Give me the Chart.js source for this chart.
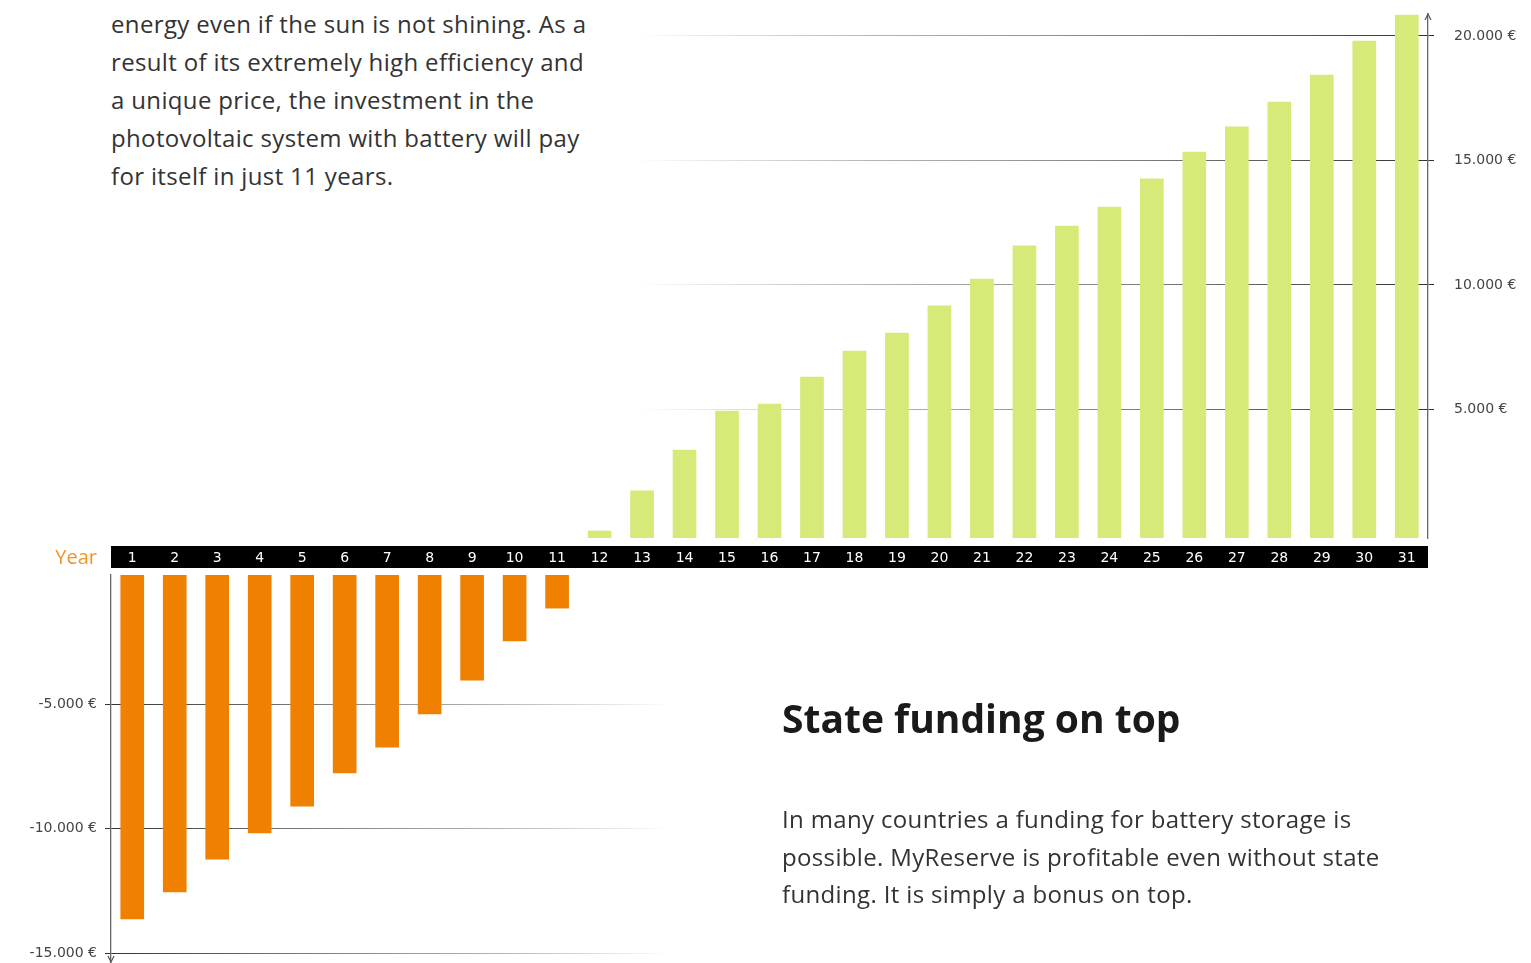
<!DOCTYPE html>
<html lang="en">
<head>
<meta charset="utf-8">
<title>MyReserve payback</title>
<script src="https://cdn.jsdelivr.net/npm/chart.js@4.4.1/dist/chart.umd.min.js"></script>
<style>
    body {
        margin: 0;
        background: #fff;
        font-family: "Open Sans", sans-serif;
        color: #333;
    }
    .page {
        position: relative;
        width: 1531px;
        height: 963px;
        overflow: hidden;
    }
    .texto {
        position: absolute;
        font-size: 24px;
        line-height: 38px;
        letter-spacing: 0.35px;
        color: #333;
        white-space: nowrap;
    }
    .titulo {
        position: absolute;
        left: 782px;
        top: 694px;
        font-size: 39px;
        line-height: 48px;
        font-weight: bold;
        color: #1a1a1a;
        white-space: nowrap;
    }
    .year {
        position: absolute;
        right: calc(1531px - 97px);
        top: 544px;
        font-size: 20px;
        line-height: 26px;
        color: #f39325;
    }
    #chartTop { position: absolute; left: 0; top: 0; }
    #chartBottom { position: absolute; left: 0; top: 570px; }
</style>
</head>
<body>
<div class="page">
    <div class="texto" style="left:111px; top:5px;">
        energy even if the sun is not shining. As a<br>
        result of its extremely high efficiency and<br>
        a unique price, the investment in the<br>
        photovoltaic system with battery will pay<br>
        for itself in just 11 years.
    </div>

    <canvas id="chartTop" width="1531" height="570"></canvas>
    <canvas id="chartBottom" width="1531" height="393"></canvas>
    <div class="year">Year</div>

    <div class="titulo">State funding on top</div>
    <div class="texto" style="left:782px; top:800px; line-height:37.5px;">
        In many countries a funding for battery storage is<br>
        possible. MyReserve is profitable even without state<br>
        funding. It is simply a bonus on top.
    </div>
</div>

<script>
// Years on the x axis
const years = ['1', '2', '3', '4', '5', '6', '7', '8', '9', '10', '11', '12', '13', '14', '15', '16',
    '17', '18', '19', '20', '21', '22', '23', '24', '25', '26', '27', '28', '29', '30', '31'];

// Cumulative balance per year (EUR)
const balance = [-13630, -12550, -11230, -10180, -9100, -7770, -6730, -5400, -4040, -2470, -1150,
    120, 1730, 3370, 4940, 5220, 6300, 7350, 8070, 9160, 10240, 11570, 12370, 13130, 14260,
    15340, 16350, 17350, 18430, 19800, 20840];

// Tick labels on both y axes
const ticksTop = [5000, 10000, 15000, 20000];
const ticksBottom = [-5000, -10000, -15000];

const green = 'rgb(213, 234, 120)';
const orange = 'rgb(240, 128, 0)';
const tickFont = { family: '"DejaVu Sans", sans-serif', size: 14 };

// 20000 -> "20.000 €"
function euro(v) {
    const s = String(Math.abs(v)).replace(/\B(?=(\d{3})+(?!\d))/g, '.');
    return (v < 0 ? '-' : '') + s + ' €';
}

// no extra space for the labels, chart area stays where the padding puts it
function sinPadding(scale) {
    scale.paddingTop = 0;
    scale.paddingBottom = 0;
    scale.paddingLeft = 0;
    scale.paddingRight = 0;
}

// black band behind the year labels
const bandaAnios = {
    id: 'bandaAnios',
    beforeDraw(chart) {
        const x = chart.scales.x;
        const c = chart.ctx;
        c.save();
        c.fillStyle = '#000';
        c.fillRect(x.left, 546, x.right - x.left, 22);
        c.restore();
    }
};

// small arrow heads on the y axis lines
function flecha(arriba) {
    return {
        id: 'flecha',
        afterDraw(chart) {
            const y = chart.scales.y;
            const c = chart.ctx;
            const x = arriba ? y.left : y.right;
            const tip = arriba ? chart.chartArea.top : chart.chartArea.bottom - 1;
            const d = arriba ? 6 : -6;
            c.save();
            c.strokeStyle = '#555';
            c.lineWidth = 1.2;
            c.beginPath();
            c.moveTo(x - 3, tip + d);
            c.lineTo(x, tip);
            c.lineTo(x + 3, tip + d);
            c.stroke();
            c.restore();
        }
    };
}

document.addEventListener('DOMContentLoaded', function() {
    // Upper chart: positive years, axis on the right
    const ctx = document.getElementById('chartTop').getContext('2d');
    const gradTop = ctx.createLinearGradient(635, 0, 1433, 0);
    gradTop.addColorStop(0, 'rgba(90, 90, 90, 0)');
    gradTop.addColorStop(0.3, 'rgba(90, 90, 90, 0.45)');
    gradTop.addColorStop(1, 'rgba(50, 50, 50, 1)');

    new Chart(ctx, {
        type: 'bar',
        data: {
            labels: years,
            datasets: [{
                data: balance.map(v => v > 0 ? v : null),
                backgroundColor: green,
                barThickness: 23,
                base: -161
            }]
        },
        options: {
            responsive: false,
            animation: false,
            layout: { padding: { left: 111, top: 14, right: 0, bottom: 0 } },
            plugins: { legend: { display: false }, tooltip: { enabled: false } },
            scales: {
                x: {
                    position: 'bottom',
                    grid: { display: false },
                    border: { display: false },
                    ticks: { color: '#fff', font: tickFont, padding: 4, maxRotation: 0, autoSkip: false },
                    afterFit: scale => { scale.height = 32; sinPadding(scale); }
                },
                y: {
                    position: 'right',
                    min: -161,
                    max: 20883,
                    afterBuildTicks: scale => { scale.ticks = ticksTop.map(v => ({ value: v })); },
                    grid: { color: gradTop, lineWidth: 1, tickLength: 6 },
                    border: { display: true, color: '#666', width: 1.3 },
                    ticks: { color: '#444', font: tickFont, padding: 20, callback: v => euro(v) },
                    afterFit: scale => { scale.width = 103; sinPadding(scale); }
                }
            }
        },
        plugins: [bandaAnios, flecha(true)]
    });

    // Lower chart: negative years, axis on the left
    const ctx2 = document.getElementById('chartBottom').getContext('2d');
    const gradBottom = ctx2.createLinearGradient(105, 0, 672, 0);
    gradBottom.addColorStop(0, 'rgba(50, 50, 50, 1)');
    gradBottom.addColorStop(0.7, 'rgba(90, 90, 90, 0.45)');
    gradBottom.addColorStop(1, 'rgba(90, 90, 90, 0)');

    new Chart(ctx2, {
        type: 'bar',
        data: {
            labels: years,
            datasets: [{
                data: balance.map(v => v < 0 ? v : null),
                backgroundColor: orange,
                barThickness: 23,
                base: 181
            }]
        },
        options: {
            responsive: false,
            animation: false,
            layout: { padding: { left: 0, top: 5, right: 103, bottom: 0 } },
            plugins: { legend: { display: false }, tooltip: { enabled: false } },
            scales: {
                x: { display: false },
                y: {
                    position: 'left',
                    min: -15401,
                    max: 181,
                    afterBuildTicks: scale => { scale.ticks = ticksBottom.map(v => ({ value: v })); },
                    grid: { color: gradBottom, lineWidth: 1, tickLength: 6 },
                    border: { display: true, color: '#666', width: 1.3 },
                    ticks: { color: '#444', font: tickFont, padding: 8, callback: v => euro(v) },
                    afterFit: scale => { scale.width = 111; sinPadding(scale); }
                }
            }
        },
        plugins: [flecha(false)]
    });
});
</script>
</body>
</html>
